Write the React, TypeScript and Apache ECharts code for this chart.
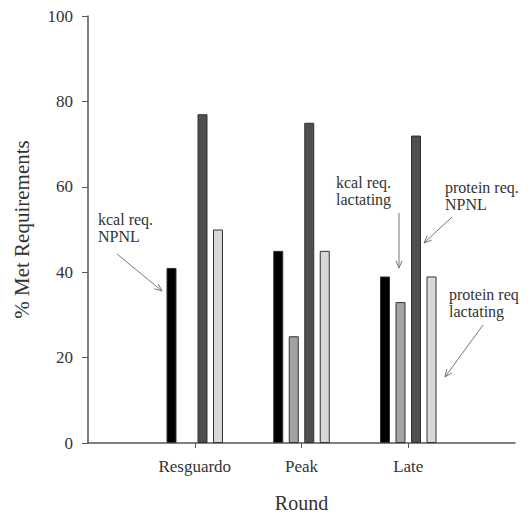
import React, { useEffect, useRef } from "react";
import * as echarts from "echarts";

const categories = ["", "Resguardo", "Peak", "Late", ""];
const kcalNPNL = [null, 41, 45, 39, null];
const kcalLactating = [null, null, 25, 33, null];
const proteinNPNL = [null, 77, 75, 72, null];
const proteinLactating = [null, 50, 45, 39, null];
const yTicks = [0, 20, 40, 60, 80, 100];

const FONT = "'Liberation Serif', 'DejaVu Serif', serif";

type Ann = { text: string; tx: number; ty: number; x1: number; y1: number; x2: number; y2: number };
const annotations: Ann[] = [
  { text: "kcal req.\nNPNL", tx: 98, ty: 211, x1: 117, y1: 254, x2: 162, y2: 291 },
  { text: "kcal req.\nlactating", tx: 336, ty: 174, x1: 399, y1: 213, x2: 399, y2: 268 },
  { text: "protein req.\nNPNL", tx: 445, ty: 179, x1: 452, y1: 217, x2: 424, y2: 243 },
  { text: "protein req\nlactating", tx: 449, ty: 286, x1: 483, y1: 325, x2: 445, y2: 377 },
];

function arrowGraphics(a: Ann) {
  const ang = Math.atan2(a.y2 - a.y1, a.x2 - a.x1);
  const len = 8;
  const spread = 0.4;
  const p1 = [a.x2 - len * Math.cos(ang - spread), a.y2 - len * Math.sin(ang - spread)];
  const p2 = [a.x2 - len * Math.cos(ang + spread), a.y2 - len * Math.sin(ang + spread)];
  const stroke = { stroke: "#777", lineWidth: 1 };
  return [
    {
      type: "text",
      left: a.tx,
      top: a.ty,
      style: { text: a.text, font: `16px ${FONT}`, fill: "#333", lineHeight: 17 },
    },
    { type: "line", shape: { x1: a.x1, y1: a.y1, x2: a.x2, y2: a.y2 }, style: stroke },
    { type: "polyline", shape: { points: [p1, [a.x2, a.y2], p2] }, style: { ...stroke, fill: "none" } },
  ];
}

export default function App() {
  const ref = useRef<HTMLDivElement>(null);
  useEffect(() => {
    if (!ref.current) return;
    const chart = echarts.init(ref.current, undefined, { renderer: "svg" });
    const mk = (name: string, data: (number | null)[], color: string) => ({
      name,
      type: "bar",
      data,
      barWidth: 10,
      barGap: "55%",
      itemStyle: { color, borderColor: "#333", borderWidth: 1 },
    });
    chart.setOption({
      animation: false,
      backgroundColor: "#fff",
      grid: { left: 88, right: 16, top: 16, bottom: 72, containLabel: false, outerBoundsMode: "none" },
      xAxis: {
        type: "category",
        data: categories,
        boundaryGap: false,
        name: "Round",
        nameLocation: "middle",
        nameGap: 50,
        nameTextStyle: { fontFamily: FONT, fontSize: 20, color: "#333" },
        axisLine: { lineStyle: { color: "#555", width: 1.5 } },
        axisTick: {
          length: 5,
          interval: (_i: number, v: string) => v !== "",
          lineStyle: { color: "#555" },
        },
        axisLabel: {
          interval: 0,
          fontFamily: FONT,
          fontSize: 17,
          color: "#333",
          margin: 15,
        },
        splitLine: { show: false },
      },
      yAxis: {
        type: "value",
        min: 0,
        max: 100,
        interval: 20,
        name: "% Met Requirements",
        nameLocation: "middle",
        nameGap: 56,
        nameTextStyle: { fontFamily: FONT, fontSize: 21, color: "#333" },
        axisLine: { show: true, lineStyle: { color: "#555", width: 1.5 } },
        axisTick: { show: true, length: 6, lineStyle: { color: "#555" } },
        axisLabel: {
          fontFamily: FONT,
          fontSize: 17,
          color: "#333",
          margin: 15,
          formatter: (v: number) => (yTicks.includes(v) ? String(v) : ""),
        },
        splitLine: { show: false },
      },
      series: [
        mk("kcal req. NPNL", kcalNPNL, "#000000"),
        mk("kcal req. lactating", kcalLactating, "#a3a3a3"),
        mk("protein req. NPNL", proteinNPNL, "#4f4f4f"),
        mk("protein req. lactating", proteinLactating, "#d8d8d8"),
      ],
      graphic: annotations.flatMap(arrowGraphics),
    });
    return () => chart.dispose();
  }, []);
  return (
    <div
      ref={ref}
      style={{ position: "fixed", left: 0, top: 0, width: 531, height: 515 }}
    />
  );
}
